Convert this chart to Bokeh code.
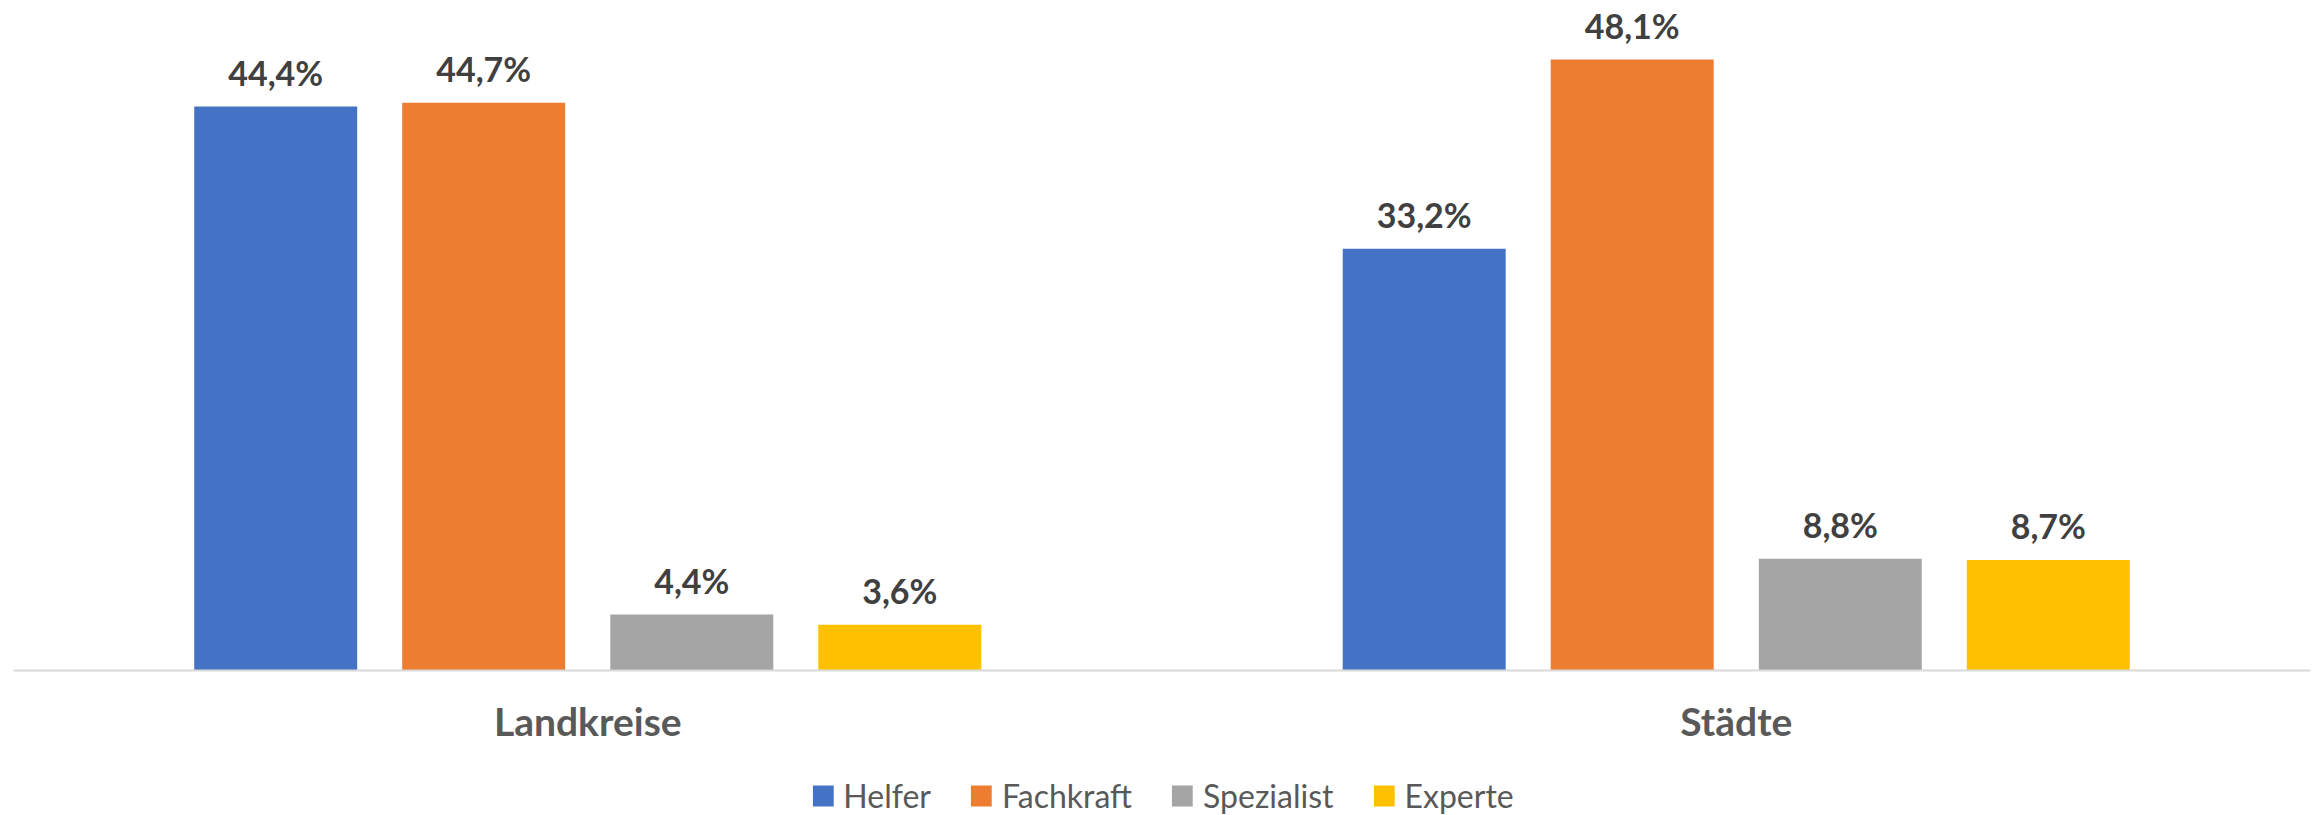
from bokeh.plotting import figure
from bokeh.layouts import column
from bokeh.models import FactorRange, Range1d, Legend, LegendItem, ColumnDataSource
from bokeh.transform import dodge
from bokeh.core.properties import value
from bokeh.embed import file_html
from bokeh.resources import INLINE

categories = ["Landkreise", "Städte"]
series = ["Helfer", "Fachkraft", "Spezialist", "Experte"]
helfer = [44.4, 33.2]
fachkraft = [44.7, 48.1]
spezialist = [4.4, 8.8]
experte = [3.6, 8.7]
colors = ["#4472C4", "#ED7D31", "#A5A5A5", "#FFC000"]

values_by_series = [helfer, fachkraft, spezialist, experte]
offsets = [-0.2717, -0.0906, 0.0906, 0.2717]
bar_width = 0.1419
FONT = "Lato"

sources = [ColumnDataSource(dict(
    cat=categories,
    val=vals,
    label=[f"{v:.1f}".replace(".", ",") + "%" for v in vals],
)) for vals in values_by_series]

# main chart
p = figure(x_range=FactorRange(*categories, range_padding=0), y_range=Range1d(0, 52.75),
           width=2323, height=750, output_backend="svg", toolbar_location=None,
           y_axis_location=None,
           min_border_left=13, min_border_right=13, min_border_top=0, min_border_bottom=80)

for src, off, col in zip(sources, offsets, colors):
    p.vbar(x=dodge("cat", off, range=p.x_range), top="val", width=bar_width,
           source=src, fill_color=col, line_color=None)
    p.text(x=dodge("cat", off, range=p.x_range), y="val", text="label", source=src,
           text_align="center", text_baseline="alphabetic", y_offset=-34,
           text_font=value(FONT), text_font_style="bold", text_font_size="34px",
           text_color="#404040")

p.xaxis.axis_line_color = "#D9D9D9"
p.xaxis.axis_line_width = 2
p.xaxis.major_tick_line_color = None
p.xaxis.minor_tick_line_color = None
p.xaxis.major_label_text_font = FONT
p.xaxis.major_label_text_font_style = "bold"
p.xaxis.major_label_text_font_size = "39px"
p.xaxis.major_label_text_color = "#595959"
p.xaxis.major_label_standoff = 21
p.xgrid.visible = False
p.ygrid.visible = False
p.outline_line_color = None

# legend strip (its bars lie above the visible range; only the legend shows)
lg = figure(x_range=FactorRange(*categories, range_padding=0), y_range=Range1d(1000, 1001),
            width=2323, height=65, output_backend="svg", toolbar_location=None,
            x_axis_location=None, y_axis_location=None,
            min_border_left=13, min_border_right=13, min_border_top=25, min_border_bottom=0)
lg.xgrid.visible = False
lg.ygrid.visible = False
lg.outline_line_color = None

items = []
for name, src, off, col in zip(series, sources, offsets, colors):
    r = lg.vbar(x=dodge("cat", off, range=lg.x_range), top="val", width=bar_width,
                source=src, fill_color=col, line_color=None)
    items.append(LegendItem(label=name, renderers=[r]))

legend = Legend(items=items, location="center", orientation="horizontal",
                glyph_width=26, glyph_height=26, label_standoff=8, spacing=37,
                padding=0, margin=0, border_line_color=None, background_fill_alpha=0,
                label_text_font=FONT, label_text_font_size="32px",
                label_text_color="#595959")
lg.add_layout(legend, "center")

layout = column(p, lg, spacing=0)
open("out.html", "w").write(file_html(layout, INLINE))
